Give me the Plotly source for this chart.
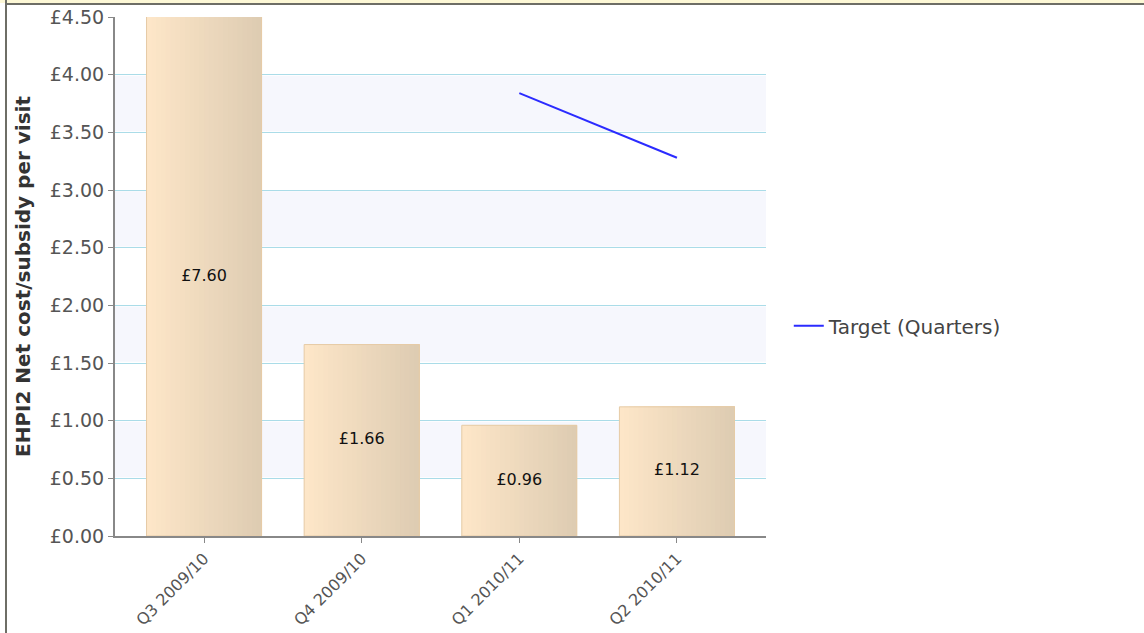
import plotly.graph_objects as go

quarters = ["Q3 2009/10", "Q4 2009/10", "Q1 2010/11", "Q2 2010/11"]
net_cost = [7.60, 1.66, 0.96, 1.12]
target = [None, None, 3.84, 3.28]
y_ticks = [0.0, 0.5, 1.0, 1.5, 2.0, 2.5, 3.0, 3.5, 4.0, 4.5]

y_max = y_ticks[-1]
font = "DejaVu Sans"

fig = go.Figure()

# fake the left-to-right gradient on the bars with thin overlapping slices
n_slices = 24
bar_w = 0.73
step = bar_w / n_slices
left_rgb = (253, 230, 200)
right_rgb = (222, 204, 178)
for i in range(n_slices):
    t = i / (n_slices - 1)
    rgb = tuple(round(a + (b - a) * t) for a, b in zip(left_rgb, right_rgb))
    w = bar_w - i * step  # each slice runs to the right edge, so no gaps
    fig.add_trace(go.Bar(
        x=quarters, y=net_cost,
        width=w, offset=-bar_w / 2 + i * step,
        marker=dict(color="rgb(%d,%d,%d)" % rgb, line=dict(width=0)),
        showlegend=False, hoverinfo="skip",
    ))

# bar outline
fig.add_trace(go.Bar(
    x=quarters, y=net_cost, width=bar_w, offset=-bar_w / 2,
    marker=dict(color="rgba(0,0,0,0)", line=dict(color="#e6cba6", width=1)),
    showlegend=False, hoverinfo="skip",
))

# value labels in the middle of the visible part of each bar
fig.add_trace(go.Scatter(
    x=quarters, y=[min(v, y_max) / 2 for v in net_cost],
    mode="text", text=["£%.2f" % v for v in net_cost],
    textfont=dict(family=font, size=16, color="#111"),
    showlegend=False, hoverinfo="skip",
))

fig.add_trace(go.Scatter(
    x=quarters, y=target, mode="lines", name="Target (Quarters)",
    line=dict(color="#2b2bff", width=2),
))

# alternating background bands (inset a touch so the gridlines stay visible)
inset = 0.01
shapes = []
for i in range(1, len(y_ticks) - 1, 2):
    shapes.append(dict(type="rect", xref="paper", yref="y", x0=0, x1=1,
                       y0=y_ticks[i] + inset, y1=y_ticks[i + 1] - inset,
                       layer="between", fillcolor="#f6f7fd", line=dict(width=0)))
# page frame around the chart
shapes.append(dict(type="rect", xref="paper", yref="paper",
                   x0=-115 / 651, x1=1029 / 651, y0=1 + 14 / 519, y1=1 + 17 / 519,
                   fillcolor="#fdf8d6", line=dict(width=0)))
shapes.append(dict(type="rect", xref="paper", yref="paper",
                   x0=-108 / 651, x1=1029 / 651, y0=1 + 12 / 519, y1=1 + 14 / 519,
                   fillcolor="#6e6e66", line=dict(width=0)))
shapes.append(dict(type="rect", xref="paper", yref="paper",
                   x0=-110 / 651, x1=-108 / 651, y0=-97 / 519, y1=1 + 17 / 519,
                   fillcolor="#6e6e66", line=dict(width=0)))

fig.update_layout(
    width=1144, height=633,
    margin=dict(l=115, r=378, t=17, b=97),
    paper_bgcolor="white", plot_bgcolor="white",
    barmode="overlay",
    font=dict(family=font, color="#555"),
    shapes=shapes,
    showlegend=True,
    legend=dict(x=1.035, y=0.405, xanchor="left", yanchor="middle",
                font=dict(family=font, size=20, color="#444"),
                bgcolor="rgba(0,0,0,0)"),
    xaxis=dict(
        range=[-0.565, 3.565], showgrid=False, automargin=False,
        showline=True, linecolor="#888", linewidth=2,
        ticks="outside", ticklen=5, tickcolor="#888",
        tickangle=-45, tickfont=dict(size=16, color="#555"),
    ),
    yaxis=dict(
        range=[0, y_max], tickvals=y_ticks,
        ticktext=["£%.2f" % v for v in y_ticks], automargin=False,
        showgrid=True, gridcolor="#aadce8", gridwidth=1,
        showline=True, linecolor="#888", linewidth=2,
        ticks="outside", ticklen=5, tickcolor="#888",
        tickfont=dict(size=19, color="#555"), zeroline=False,
        title=dict(text="<b>EHPI2 Net cost/subsidy per visit</b>",
                   font=dict(size=20, color="#333"), standoff=14),
    ),
)

# drop the default page margin so the chart sits at the window corner
fig.write_html("out.html", config={"displayModeBar": False},
               post_script="document.body.style.margin='0';")
